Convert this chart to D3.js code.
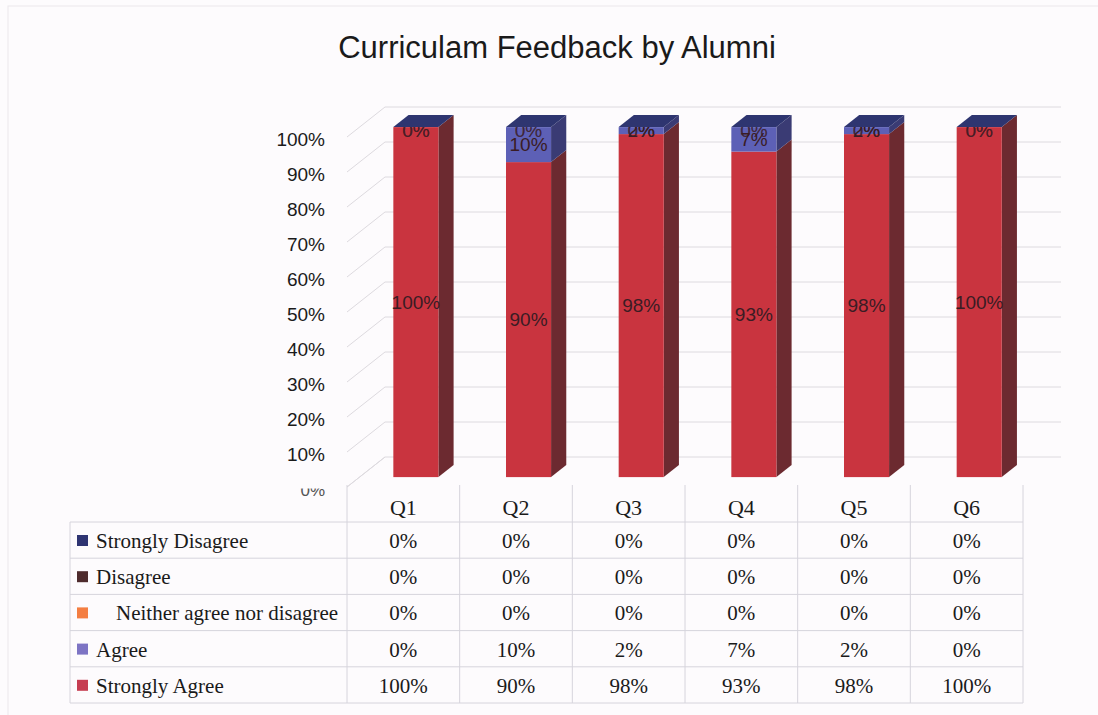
<!DOCTYPE html>
<html>
<head>
<meta charset="utf-8">
<script src="https://cdn.jsdelivr.net/npm/d3@7"></script>
<style>
  body { margin: 0; background: #fdfbfd; }
  svg { display: block; }
</style>
</head>
<body>
<svg id="chart"></svg>
<script>
// chart data
var questions = ['Q1', 'Q2', 'Q3', 'Q4', 'Q5', 'Q6'];
var stronglyAgree = [100, 90, 98, 93, 98, 100];
var agree = [0, 10, 2, 7, 2, 0];
var neither = [0, 0, 0, 0, 0, 0];
var disagree = [0, 0, 0, 0, 0, 0];
var stronglyDisagree = [0, 0, 0, 0, 0, 0];
var seriesNames = ['Strongly Agree', 'Agree', 'Neither agree nor disagree', 'Disagree', 'Strongly Disagree'];
var yTicks = [0, 10, 20, 30, 40, 50, 60, 70, 80, 90, 100];

// colours per series (bar face, legend key)
var barColor = {
  'Strongly Agree': '#c9343f',
  'Agree': '#5d60b6',
  'Neither agree nor disagree': '#f27b3e',
  'Disagree': '#55292c',
  'Strongly Disagree': '#2e3570'
};
var sideColor = {
  'Strongly Agree': '#6c2a30',
  'Agree': '#3a3b74',
  'Neither agree nor disagree': '#8a4524',
  'Disagree': '#33191b',
  'Strongly Disagree': '#1d2247'
};
var keyColor = {
  'Strongly Agree': '#c63d52',
  'Agree': '#7d74c4',
  'Neither agree nor disagree': '#f47e42',
  'Disagree': '#4e2b2d',
  'Strongly Disagree': '#2e3472'
};

var width = 1098, height = 715;
var svg = d3.select('#chart').attr('width', width).attr('height', height);

// build rows for the stack
var rows = questions.map(function(q, i) {
  return {
    q: q,
    'Strongly Agree': stronglyAgree[i],
    'Agree': agree[i],
    'Neither agree nor disagree': neither[i],
    'Disagree': disagree[i],
    'Strongly Disagree': stronglyDisagree[i]
  };
});
var stacked = d3.stack().keys(seriesNames)(rows);

// scales (front plane of the 3d box)
var x = d3.scaleBand().domain(questions).range([347, 1023]);
var y = d3.scaleLinear().domain([0, 100]).range([487, 137]);
var depth = {x: 38, y: -30};   // full depth of the box
var zFront = 0.33, zBack = 0.73; // bar front / back inside the box
var barW = x.bandwidth() * 0.4;

function off(z) { return {x: depth.x * z, y: depth.y * z}; }

// faint page frame
svg.append('rect')
  .attr('x', 8).attr('y', 6)
  .attr('width', 1200).attr('height', 800)
  .attr('fill', 'none')
  .attr('stroke', '#ece8ec');

// title
svg.append('text')
  .attr('x', 557).attr('y', 58)
  .attr('text-anchor', 'middle')
  .style('font-family', 'Liberation Sans, Arial, sans-serif')
  .style('font-size', '31px')
  .style('fill', '#1a1a1a')
  .text('Curriculam Feedback by Alumni');

// back wall gridlines + side wall diagonals
var walls = svg.append('g');
var bk = off(1);
walls.selectAll('line.grid')
  .data(yTicks)
  .enter()
  .append('line')
    .attr('x1', 347 + bk.x)
    .attr('x2', 1023 + bk.x)
    .attr('y1', function(d) { return y(d) + bk.y; })
    .attr('y2', function(d) { return y(d) + bk.y; })
    .attr('stroke', '#dddadf');
walls.selectAll('line.side')
  .data(yTicks)
  .enter()
  .append('line')
    .attr('x1', 347)
    .attr('x2', 347 + bk.x)
    .attr('y1', function(d) { return y(d); })
    .attr('y2', function(d) { return y(d) + bk.y; })
    .attr('stroke', '#dddadf');

// y axis
var yAxis = svg.append('g')
  .attr('transform', 'translate(347,0)')
  .call(d3.axisLeft(y).tickValues(yTicks).tickFormat(function(d) { return d + '%'; })
    .tickSize(0).tickPadding(22));
yAxis.select('.domain').remove();
yAxis.selectAll('text')
  .attr('dy', '0.47em')
  .style('font-family', 'Liberation Sans, Arial, sans-serif')
  .style('font-size', '19px')
  .style('fill', '#1a1a1a');
// the 0% label is cut in the scan
svg.append('clipPath').attr('id', 'cut0')
  .append('rect').attr('x', -60).attr('y', 1).attr('width', 60).attr('height', 30);
yAxis.selectAll('.tick').filter(function(d) { return d === 0; })
  .select('text')
  .attr('clip-path', 'url(#cut0)')
  .style('font-size', '17px')
  .style('fill', '#555');

// bars
var f = off(zFront), b = off(zBack);
var bars = svg.append('g');
questions.forEach(function(q, i) {
  var xl = x(q) + (x.bandwidth() - barW) / 2;
  var xr = xl + barW;
  stacked.forEach(function(layer) {
    var v0 = layer[i][0], v1 = layer[i][1];
    if (v1 - v0 <= 0) return;
    bars.append('polygon')
      .attr('points', [
        [xr + f.x, y(v1) + f.y], [xr + b.x, y(v1) + b.y],
        [xr + b.x, y(v0) + b.y], [xr + f.x, y(v0) + f.y]
      ].join(' '))
      .attr('fill', sideColor[layer.key]);
    bars.append('rect')
      .attr('x', xl + f.x)
      .attr('y', y(v1) + f.y)
      .attr('width', barW)
      .attr('height', y(v0) - y(v1))
      .attr('fill', barColor[layer.key]);
  });
});

// data labels
var labels = svg.append('g')
  .style('font-family', 'Liberation Sans, Arial, sans-serif')
  .style('font-size', '19px')
  .style('fill', '#3a1c24');
stacked.forEach(function(layer) {
  labels.selectAll(null)
    .data(layer)
    .enter()
    .append('text')
      .attr('text-anchor', 'middle')
      .attr('x', function(d, i) { return x(questions[i]) + x.bandwidth() / 2 + f.x; })
      .attr('y', function(d) {
        var mid = d[1] - d[0] > 0 ? (y(d[0]) + y(d[1])) / 2 : y(d[1]) + 3;
        return mid + f.y;
      })
      .attr('dy', '0.36em')
      .style('fill-opacity', function(d) { return d[1] - d[0] > 0 ? 1 : 0.45; })
      .text(function(d) { return (d[1] - d[0]) + '%'; });
});

// top faces
questions.forEach(function(q, i) {
  var xl = x(q) + (x.bandwidth() - barW) / 2;
  var xr = xl + barW;
  var top = y(stacked[stacked.length - 1][i][1]);
  svg.append('polygon')
    .attr('points', [
      [xl + f.x, top + f.y], [xl + b.x, top + b.y],
      [xr + b.x, top + b.y], [xr + f.x, top + f.y]
    ].join(' '))
    .attr('fill', barColor['Strongly Disagree']);
});

// floor edge
svg.append('line')
  .attr('x1', 347).attr('y1', y(0))
  .attr('x2', 347 + bk.x).attr('y2', y(0) + bk.y)
  .attr('stroke', '#dddadf');

// data table
var rowTop = 522, rowH = 36.2;
var tableRows = seriesNames.slice().reverse();
var tableValues = {
  'Strongly Agree': stronglyAgree,
  'Agree': agree,
  'Neither agree nor disagree': neither,
  'Disagree': disagree,
  'Strongly Disagree': stronglyDisagree
};
var table = svg.append('g');
var lineColor = '#d6d4dc';

// vertical lines
table.selectAll('line.col')
  .data(questions.concat(['end']))
  .enter()
  .append('line')
    .attr('x1', function(d) { return d === 'end' ? 1023 : x(d); })
    .attr('x2', function(d) { return d === 'end' ? 1023 : x(d); })
    .attr('y1', 485)
    .attr('y2', rowTop + rowH * tableRows.length)
    .attr('stroke', lineColor);
table.append('line')
  .attr('x1', 70).attr('x2', 70)
  .attr('y1', rowTop).attr('y2', rowTop + rowH * tableRows.length)
  .attr('stroke', lineColor);
// horizontal lines
table.selectAll('line.row')
  .data(d3.range(tableRows.length + 1))
  .enter()
  .append('line')
    .attr('x1', 70).attr('x2', 1023)
    .attr('y1', function(d) { return rowTop + d * rowH; })
    .attr('y2', function(d) { return rowTop + d * rowH; })
    .attr('stroke', lineColor);

var serif = 'Liberation Serif, Times New Roman, serif';
// header
table.selectAll('text.head')
  .data(questions)
  .enter()
  .append('text')
    .attr('x', function(d) { return x(d) + x.bandwidth() / 2; })
    .attr('y', 515)
    .attr('text-anchor', 'middle')
    .style('font-family', serif)
    .style('font-size', '22px')
    .style('fill', '#1a1a1a')
    .text(function(d) { return d; });

tableRows.forEach(function(name, r) {
  var base = rowTop + r * rowH + 26;
  table.append('rect')
    .attr('x', 77).attr('y', base - 13)
    .attr('width', 11).attr('height', 11)
    .attr('fill', keyColor[name]);
  table.append('text')
    .attr('x', name === 'Neither agree nor disagree' ? 116 : 96)
    .attr('y', base)
    .style('font-family', serif)
    .style('font-size', '21px')
    .style('fill', '#1a1a1a')
    .text(name);
  table.selectAll(null)
    .data(tableValues[name])
    .enter()
    .append('text')
      .attr('x', function(d, i) { return x(questions[i]) + x.bandwidth() / 2; })
      .attr('y', base)
      .attr('text-anchor', 'middle')
      .style('font-family', serif)
      .style('font-size', '21px')
      .style('fill', '#1a1a1a')
      .text(function(d) { return d + '%'; });
});
</script>
</body>
</html>
